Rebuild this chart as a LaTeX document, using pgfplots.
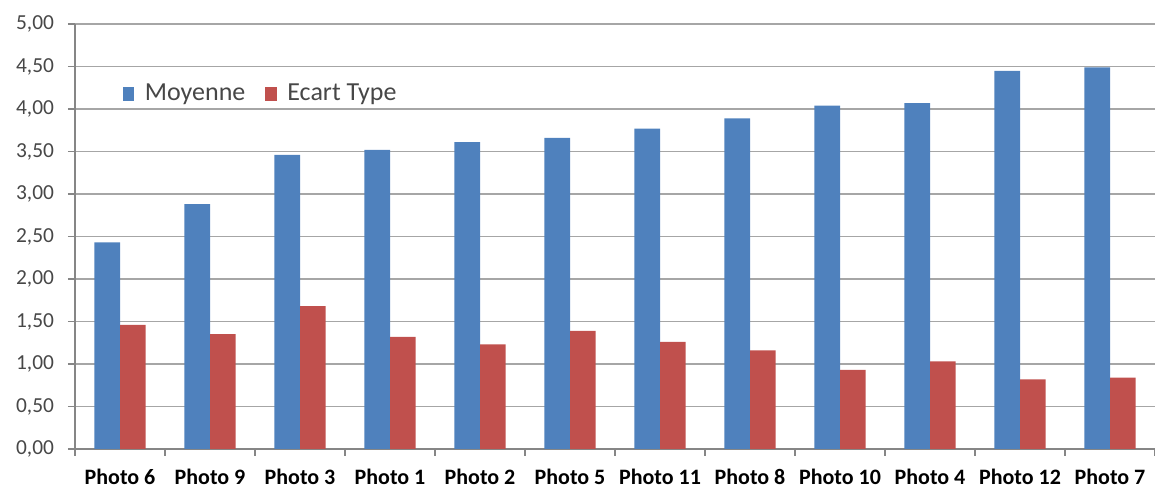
\documentclass[border=0pt]{standalone}
\usepackage{fontspec}
\setmainfont{Carlito}
\usepackage{pgfplots}
\usepackage{pgfplotstable}
\pgfplotsset{compat=1.18}

\definecolor{xlblue}{HTML}{4F81BD}
\definecolor{xlred}{HTML}{C0504D}
\definecolor{gridgray}{HTML}{A6A6A6}
\definecolor{axgray}{HTML}{868686}
\definecolor{lblgray}{HTML}{474747}

% idx: position of the photo on the x axis
\pgfplotstableread{
idx moy  ecart
0   2.43 1.46
1   2.88 1.35
2   3.46 1.68
3   3.52 1.32
4   3.61 1.23
5   3.66 1.39
6   3.77 1.26
7   3.89 1.16
8   4.04 0.93
9   4.07 1.03
10  4.45 0.82
11  4.49 0.84
}\photos

\begin{document}
\begin{tikzpicture}
\useasboundingbox (-37.5pt,-21pt) rectangle (540pt,224.5pt);
\begin{axis}[
  scale only axis,
  width=540pt, height=212.5pt,
  xmin=-0.5, xmax=11.5,
  ymin=0, ymax=5,
  ybar=0pt, bar width=0.285,
  xtick={-0.5,0.5,...,11.5},
  x tick label as interval,
  xticklabels={Photo 6,Photo 9,Photo 3,Photo 1,Photo 2,Photo 5,Photo 11,Photo 8,Photo 10,Photo 4,Photo 12,Photo 7},
  ytick={0,0.5,...,5},
  yticklabel style={/pgf/number format/fixed,
    /pgf/number format/fixed zerofill,
    /pgf/number format/precision=2,
    /pgf/number format/use comma,
    /pgf/number format/assume math mode=true,
    font=\fontsize{10.7}{12}\selectfont, text=lblgray, xshift=-3.5pt},
  xticklabel style={font=\fontsize{11}{13}\selectfont\bfseries, text=black, yshift=-3pt},
  axis x line*=bottom, axis y line*=left,
  axis line style={axgray, line width=0.8pt},
  tick align=outside,
  major tick length=3.5pt,
  tick style={axgray, line width=0.8pt},
  ymajorgrids,
  major grid style={gridgray, line width=0.8pt},
  legend style={at={(0.044,0.835)}, anchor=west, draw=none, fill=none,
    inner sep=0pt, legend columns=-1,
    font=\fontsize{13}{15}\selectfont, text=lblgray,
    /tikz/every even column/.append style={column sep=8pt}},
  legend image code/.code={\fill[#1,draw=none] (0pt,-3.2pt) rectangle (5.6pt,3.6pt);
    \path (9pt,0pt);},
]
\addplot[fill=xlblue, draw=none] table[x=idx, y=moy] {\photos};
\addplot[fill=xlred, draw=none] table[x=idx, y=ecart] {\photos};
\legend{Moyenne, Ecart Type}
\end{axis}
\end{tikzpicture}
\end{document}
